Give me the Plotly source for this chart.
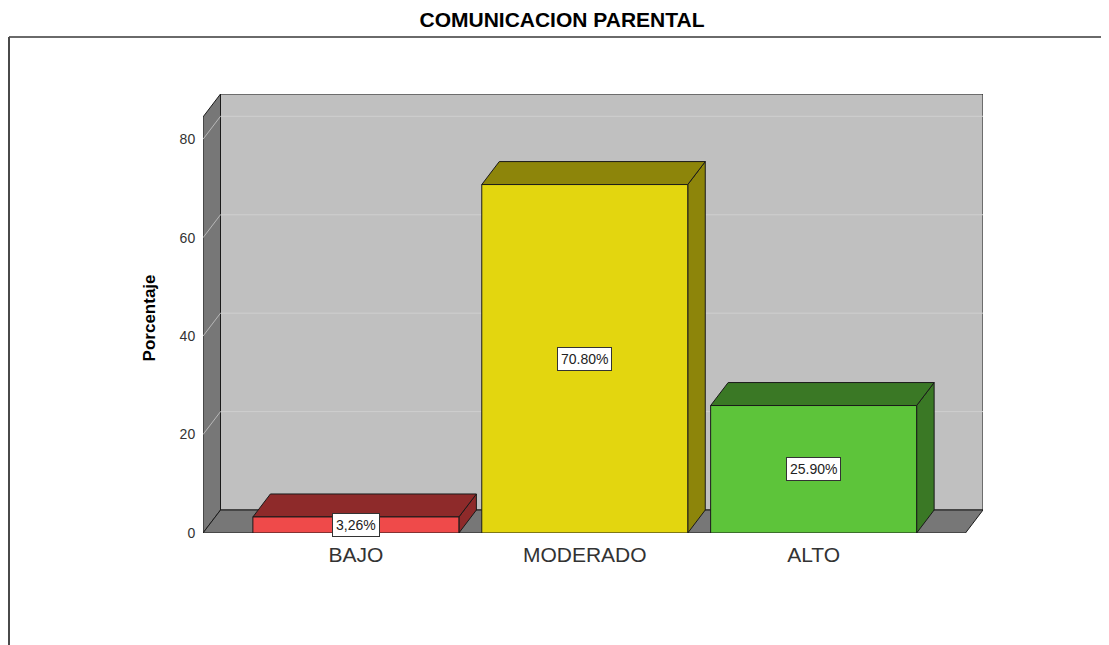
import plotly.graph_objects as go

categories = ["BAJO", "MODERADO", "ALTO"]
percentages = [3.26, 70.80, 25.90]
value_labels = ["3,26%", "70.80%", "25.90%"]
y_ticks = [0, 20, 40, 60, 80]

front_colors = ["#ef4a4a", "#e3d60f", "#5dc43a"]
shade_colors = ["#8e2a2a", "#8d850a", "#3a7825"]

# fake 3d depth, in axis units
DX = 0.0765
DY = 4.67
BAR_W = 0.9
X_LEFT = -0.668
X_RIGHT = 2.740
Y_TOP = 89.2
EDGE = "#1a1a1a"

# page body has an 8px margin, so the figure is a bit smaller than the window
W, H = 1101, 637
ML, MR, MT, MB = 195, 126, 86, 112
PW = W - ML - MR
PH = H - MT - MB


def poly(fig, xs, ys, fill, line=EDGE, width=1):
    fig.add_trace(go.Scatter(x=xs + [xs[0]], y=ys + [ys[0]],
                             mode="lines", fill="toself", fillcolor=fill,
                             line=dict(color=line, width=width),
                             hoverinfo="skip", showlegend=False))


def seg(fig, xs, ys, color, width=1):
    fig.add_trace(go.Scatter(x=xs, y=ys, mode="lines",
                             line=dict(color=color, width=width),
                             hoverinfo="skip", showlegend=False))


fig = go.Figure()

front_top = Y_TOP - DY
front_right = X_RIGHT - DX

# back wall
poly(fig, [X_LEFT + DX, X_RIGHT, X_RIGHT, X_LEFT + DX],
     [DY, DY, Y_TOP, Y_TOP], "#c0c0c0")
# left wall
poly(fig, [X_LEFT, X_LEFT + DX, X_LEFT + DX, X_LEFT],
     [0, DY, Y_TOP, front_top], "#777777")
# floor
poly(fig, [X_LEFT, front_right, X_RIGHT, X_LEFT + DX],
     [0, 0, DY, DY], "#777777")

# grid lines
for t in y_ticks[1:]:
    seg(fig, [X_LEFT + DX, X_RIGHT], [t + DY, t + DY], "#cfcfcf")
    seg(fig, [X_LEFT, X_LEFT + DX], [t, t + DY], "#b8b8b8")

# bars
for i, v in enumerate(percentages):
    x0 = i - BAR_W / 2
    x1 = i + BAR_W / 2
    # side
    poly(fig, [x1, x1 + DX, x1 + DX, x1], [0, DY, v + DY, v], shade_colors[i])
    # top
    poly(fig, [x0, x1, x1 + DX, x0 + DX], [v, v, v + DY, v + DY], shade_colors[i])
    # front
    poly(fig, [x0, x1, x1, x0], [0, 0, v, v], front_colors[i])

annotations = []
for i, v in enumerate(percentages):
    annotations.append(dict(x=i, y=v / 2, xref="x", yref="y", text=value_labels[i],
                            showarrow=False, bgcolor="white", bordercolor="#333333",
                            borderwidth=1, borderpad=3,
                            font=dict(family="Liberation Sans, Arial", size=14, color="#222222")))

annotations.append(dict(x=0, xref="paper", xshift=-65, y=0.49, yref="paper",
                        text="<b>Porcentaje</b>", textangle=-90, showarrow=False,
                        font=dict(family="Liberation Sans, Arial", size=17, color="black")))

frame_top = (PH + MT - 29) / PH   # 29px from the top of the figure
frame_left = (1 - ML) / PW

fig.update_layout(
    width=W, height=H, autosize=False,
    margin=dict(l=ML, r=MR, t=MT, b=MB),
    paper_bgcolor="white", plot_bgcolor="white",
    title=dict(text="<b>COMUNICACION PARENTAL</b>", x=554 / W, xanchor="center",
               y=1 - 12 / H, yref="container", yanchor="middle",
               font=dict(family="Liberation Sans, Arial", size=21, color="black")),
    xaxis=dict(range=[X_LEFT, X_RIGHT], tickvals=list(range(len(categories))),
               ticktext=categories, showgrid=False, zeroline=False, showline=False,
               ticks="outside", ticklen=3, tickcolor="rgba(0,0,0,0)",
               tickfont=dict(family="Liberation Sans, Arial", size=21, color="#333333")),
    yaxis=dict(range=[0, Y_TOP], tickvals=y_ticks, showgrid=False, zeroline=False,
               showline=False, ticks="outside", ticklen=4, tickcolor="rgba(0,0,0,0)",
               tickfont=dict(family="Liberation Sans, Arial", size=14, color="#333333")),
    annotations=annotations,
    shapes=[
        dict(type="line", xref="paper", yref="paper", x0=frame_left, x1=1.3,
             y0=frame_top, y1=frame_top, line=dict(color="#6a6a6a", width=2)),
        dict(type="line", xref="paper", yref="paper", x0=frame_left, x1=frame_left,
             y0=frame_top, y1=-0.3, line=dict(color="#4a4a4a", width=2)),
    ],
)

fig.write_html("out.html")
